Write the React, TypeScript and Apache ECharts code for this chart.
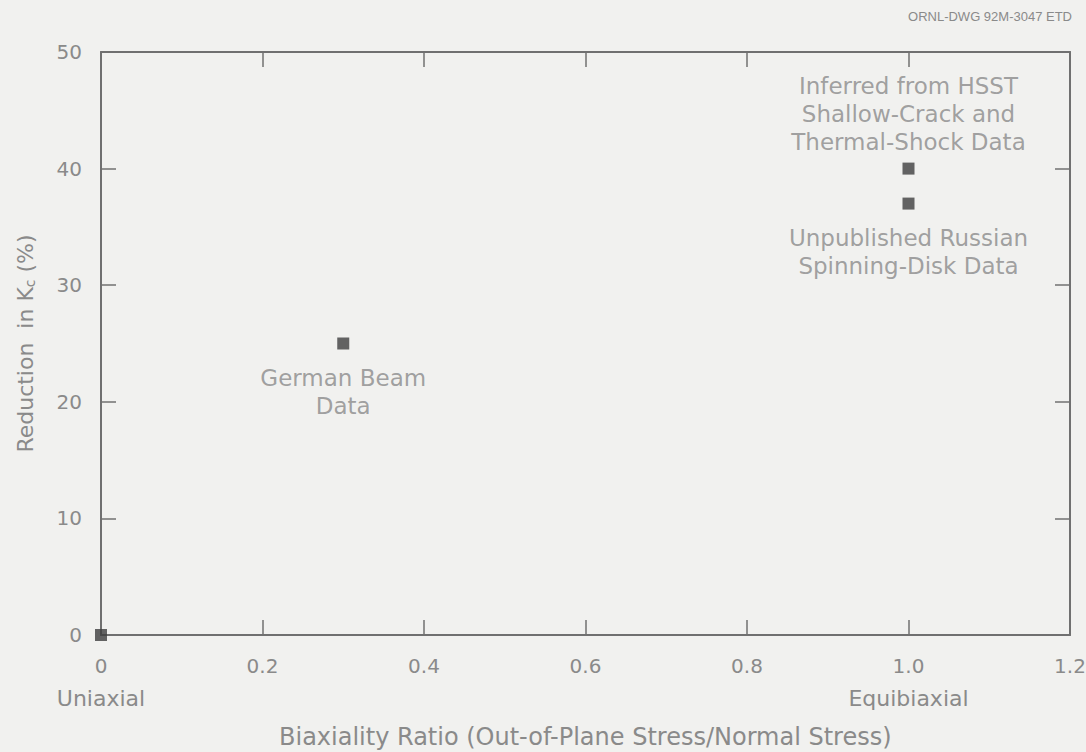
import React, { useEffect, useRef } from "react";
import * as echarts from "echarts";

const xTicks = [0, 0.2, 0.4, 0.6, 0.8, 1.0, 1.2];
const xTickLabels = ["0", "0.2", "0.4", "0.6", "0.8", "1.0", "1.2"];
const yTicks = [0, 10, 20, 30, 40, 50];
const pointX = [0, 0.3, 1.0, 1.0];
const pointY = [0, 25, 40, 37];
const pointLabels = [
  "",
  "German Beam\nData",
  "Inferred from HSST\nShallow-Crack and\nThermal-Shock Data",
  "Unpublished Russian\nSpinning-Disk Data",
];
const labelSides = ["bottom", "bottom", "top", "bottom"];
const labelGaps = [0, 14, 7, 14];
const xSubLabels: Record<string, string> = { "0": "Uniaxial", "1.0": "Equibiaxial" };
const xTitle = "Biaxiality Ratio (Out-of-Plane Stress/Normal Stress)";

const FONT = "'DejaVu Sans', 'Liberation Sans', Arial, sans-serif";
const TEXT = "#8a8a8a";
const AXIS = "#707070";

export default function App() {
  const ref = useRef<HTMLDivElement>(null);
  useEffect(() => {
    if (!ref.current) return;
    const chart = echarts.init(ref.current, undefined, { renderer: "svg" });
    const tickStyle = { show: true, inside: true, length: 15, lineStyle: { color: AXIS, width: 1.5 } };
    const lineStyle = { show: true, onZero: false, lineStyle: { color: AXIS, width: 2 } };
    chart.setOption({
      animation: false,
      backgroundColor: "#f1f1ef",
      textStyle: { fontFamily: FONT },
      grid: { left: 101, right: 16, top: 52, bottom: 117, containLabel: false, outerBoundsMode: "none" },
      graphic: [
        {
          type: "text",
          right: 14,
          top: 10,
          style: { text: "ORNL-DWG 92M-3047 ETD", font: `13px 'Liberation Sans', Arial, sans-serif`, fill: "#8a8a8a" },
        },
        {
          type: "text",
          left: 279,
          bottom: 3,
          style: {
            text: xTitle,
            font: `24px ${FONT}`,
            fill: TEXT,
          },
        },
      ],
      xAxis: [
        {
          type: "value",
          min: 0,
          max: 1.2,
          interval: 0.2,
          position: "bottom",
          axisLine: lineStyle,
          axisTick: tickStyle,
          splitLine: { show: false },
          axisLabel: {
            margin: 16,
            color: TEXT,
            fontFamily: FONT,
            formatter: (v: number) => {
              const idx = xTicks.findIndex((t) => Math.abs(t - v) < 1e-6);
              const s = idx >= 0 ? xTickLabels[idx] : String(v);
              return xSubLabels[s] ? `{n|${s}}\n{s|${xSubLabels[s]}}` : `{n|${s}}`;
            },
            rich: {
              n: { fontSize: 20, lineHeight: 30, color: TEXT, fontFamily: FONT },
              s: { fontSize: 22, lineHeight: 34, color: TEXT, fontFamily: FONT },
            },
          },
        },
        {
          type: "value",
          min: 0,
          max: 1.2,
          interval: 0.2,
          position: "top",
          axisLine: lineStyle,
          axisTick: tickStyle,
          axisLabel: { show: false },
          splitLine: { show: false },
        },
      ],
      yAxis: [
        {
          type: "value",
          min: 0,
          max: 50,
          interval: 10,
          position: "left",
          axisLine: lineStyle,
          axisTick: tickStyle,
          splitLine: { show: false },
          axisLabel: {
            margin: 19,
            color: TEXT,
            fontSize: 20,
            fontFamily: FONT,
            formatter: (v: number) => (yTicks.includes(v) ? String(v) : ""),
          },
          name: "Reduction  in K{sub|c} (%)",
          nameLocation: "middle",
          nameGap: 64,
          nameTextStyle: {
            color: TEXT,
            fontSize: 22,
            fontFamily: FONT,
            rich: { sub: { fontSize: 14, color: TEXT, fontFamily: FONT, verticalAlign: "bottom", padding: [10, 0, 0, 0] } },
          },
        },
        {
          type: "value",
          min: 0,
          max: 50,
          interval: 10,
          position: "right",
          axisLine: lineStyle,
          axisTick: tickStyle,
          axisLabel: { show: false },
          splitLine: { show: false },
        },
      ],
      series: [
        {
          type: "scatter",
          symbol: "rect",
          symbolSize: 12,
          itemStyle: { color: "#3e3e3e" },
          clip: false,
          data: pointX.map((x, i) => ({
            value: [x, pointY[i]],
            label: {
              show: pointLabels[i] !== "",
              position: labelSides[i],
              distance: labelGaps[i],
              formatter: pointLabels[i],
              color: TEXT,
              fontSize: 23,
              fontFamily: FONT,
              lineHeight: 28,
              align: "center",
            },
          })),
        },
      ],
    });
    return () => chart.dispose();
  }, []);
  return (
    <div
      ref={ref}
      style={{ position: "fixed", left: 0, top: 0, width: 1086, height: 752 }}
    />
  );
}
